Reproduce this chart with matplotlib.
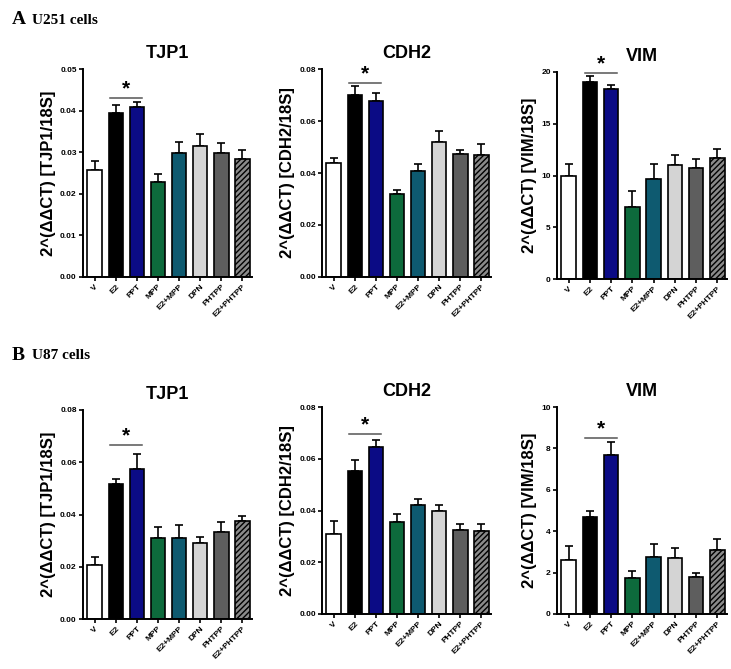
import numpy as np
import matplotlib.pyplot as plt
from matplotlib.ticker import FormatStrFormatter

groups = ['V', 'E2', 'PPT', 'MPP', 'E2+MPP', 'DPN', 'PHTPP', 'E2+PHTPP']
colors = ['#ffffff', '#000000', '#0b0b85', '#0d6a3c', '#0e5a70', '#d4d4d4', '#5e5e5e', '#8a8a8a']

# U251 cells
u251_tjp1 = [0.0258, 0.0395, 0.0409, 0.0228, 0.0299, 0.0315, 0.0298, 0.0283]
u251_tjp1_err = [0.0020, 0.0019, 0.0011, 0.0020, 0.0026, 0.0029, 0.0025, 0.0022]
u251_cdh2 = [0.0437, 0.0700, 0.0678, 0.0320, 0.0408, 0.0520, 0.0475, 0.0468]
u251_cdh2_err = [0.0019, 0.0033, 0.0030, 0.0015, 0.0027, 0.0042, 0.0013, 0.0044]
u251_vim = [10.0, 19.0, 18.4, 7.0, 9.7, 11.0, 10.7, 11.7]
u251_vim_err = [1.1, 0.6, 0.3, 1.5, 1.4, 1.0, 0.9, 0.9]

# U87 cells
u87_tjp1 = [0.0205, 0.0515, 0.0575, 0.0310, 0.0310, 0.0290, 0.0333, 0.0375]
u87_tjp1_err = [0.0033, 0.0022, 0.0058, 0.0042, 0.0050, 0.0025, 0.0039, 0.0020]
u87_cdh2 = [0.0308, 0.0553, 0.0647, 0.0355, 0.0421, 0.0398, 0.0323, 0.0322]
u87_cdh2_err = [0.0052, 0.0043, 0.0025, 0.0030, 0.0022, 0.0025, 0.0025, 0.0026]
u87_vim = [2.6, 4.7, 7.7, 1.75, 2.75, 2.7, 1.8, 3.1]
u87_vim_err = [0.7, 0.3, 0.6, 0.35, 0.65, 0.5, 0.2, 0.5]

W, H = 731, 669
fig = plt.figure(figsize=(W / 100, H / 100), dpi=100)
plt.rcParams['font.family'] = ['Liberation Sans', 'DejaVu Sans']
plt.rcParams['hatch.color'] = '#333333'

# (left px, top px, right px, bottom px)
panels = [
    ('TJP1', u251_tjp1, u251_tjp1_err, 0.05, 0.01, '%.2f', 0.043, (83, 69, 252, 277)),
    ('CDH2', u251_cdh2, u251_cdh2_err, 0.08, 0.02, '%.2f', 0.0745, (322, 69, 491, 277)),
    ('VIM', u251_vim, u251_vim_err, 20, 5, '%d', 19.9, (557, 72, 727, 279)),
    ('TJP1', u87_tjp1, u87_tjp1_err, 0.08, 0.02, '%.2f', 0.0665, (83, 410, 252, 619)),
    ('CDH2', u87_cdh2, u87_cdh2_err, 0.08, 0.02, '%.2f', 0.0695, (322, 407, 491, 614)),
    ('VIM', u87_vim, u87_vim_err, 10, 2, '%d', 8.5, (557, 407, 727, 614)),
]

x = np.arange(len(groups))
for name, vals, errs, ymax, step, fmt, sig, (l, t, r, b) in panels:
    ax = fig.add_axes([l / W, 1 - b / H, (r - l) / W, (b - t) / H])
    bars = ax.bar(x, vals, width=0.68, color=colors, edgecolor='black', linewidth=1.2, zorder=2)
    bars[-1].set_hatch('//////')
    ax.errorbar(x, vals, yerr=[np.zeros(len(vals)), errs], fmt='none', ecolor='black',
                elinewidth=1.2, capsize=3, capthick=1.2, zorder=1)
    ax.set_xlim(-0.55, 7.45)
    ax.set_ylim(0, ymax)
    ax.set_yticks(np.arange(0, ymax + step / 2, step))
    ax.yaxis.set_major_formatter(FormatStrFormatter(fmt))
    ax.set_xticks(x)
    ax.set_xticklabels(groups, rotation=45, ha='right', rotation_mode='anchor',
                       fontsize=6, fontweight='bold')
    for lab in ax.get_yticklabels():
        lab.set_fontsize(6)
        lab.set_fontweight('bold')
    ax.tick_params(axis='both', length=3, width=1.2, pad=1.5)
    for s in ['top', 'right']:
        ax.spines[s].set_visible(False)
    for s in ['left', 'bottom']:
        ax.spines[s].set_linewidth(1.4)
    ax.set_title(name, fontsize=13, fontweight='bold', pad=8)
    ax.set_ylabel('2^(\u0394\u0394CT) [%s/18S]' % name, fontsize=12, fontweight='bold', labelpad=3)
    ax.plot([0.75, 2.25], [sig, sig], color='#555555', lw=1.1, clip_on=False)
    ax.text(1.5, sig, '*', ha='center', va='bottom', fontsize=15, fontweight='bold')

fig.text(12 / W, 1 - 20 / H, 'A', fontsize=14, fontweight='bold', family='Liberation Serif', va='center')
fig.text(32 / W, 1 - 20 / H, 'U251 cells', fontsize=11, fontweight='bold', family='Liberation Serif', va='center')
fig.text(12 / W, 1 - 355 / H, 'B', fontsize=14, fontweight='bold', family='Liberation Serif', va='center')
fig.text(32 / W, 1 - 355 / H, 'U87 cells', fontsize=11, fontweight='bold', family='Liberation Serif', va='center')

plt.savefig('out.png', dpi=100)
